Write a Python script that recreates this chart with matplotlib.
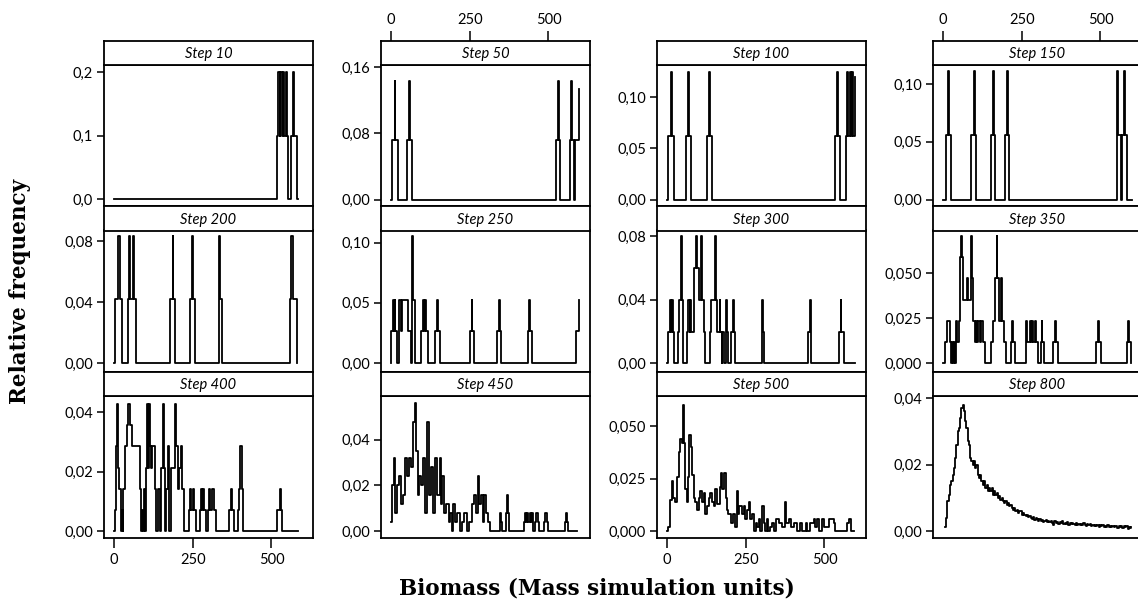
import numpy as np
import matplotlib.pyplot as plt

plt.rcParams['font.family'] = ['Lato', 'DejaVu Sans']

# ---------------------------------------------------------------- data
titles = ['Step 10', 'Step 50', 'Step 100', 'Step 150',
          'Step 200', 'Step 250', 'Step 300', 'Step 350',
          'Step 400', 'Step 450', 'Step 500', 'Step 800']

# step lines: x = where the level changes, y = level from there on
x10 = [0, 517, 522, 526, 528, 532, 537, 541, 545, 549, 553, 562, 567, 571, 580, 585]
y10 = [0, .1, .2, .1, .2, .1, .2, .1, .2, .1, 0, .1, .2, .1, 0, 0]

x50 = [0, 3, 11, 14, 21, 50, 56, 59, 66, 524, 531, 535, 538, 567, 571, 575, 580, 584, 591, 597, 597]
y50 = [0, .0714, .1429, .0714, 0, .0714, .1429, .0714, 0, .0714, .1429, .0714, 0,
       .0714, .1429, .0714, 0, .0714, .0714, .0714, .133]

x100 = [0, 4, 12, 15, 22, 59, 66, 69, 75, 126, 133, 136, 142, 535, 540, 543, 549,
        570, 573, 576, 582, 584, 589, 591, 596, 596]
y100 = [0, .0625, .125, .0625, 0, .0625, .125, .0625, 0, .0625, .125, .0625, 0,
        .0625, .125, .0625, 0, .0625, .125, .0625, .125, .0625, .125, .0625, .0625, .12]

x150 = [0, 9, 17, 20, 25, 90, 97, 100, 106, 151, 158, 161, 164, 197, 202, 205, 208,
        551, 554, 557, 564, 567, 575, 579, 585, 600]
y150 = [0, .0556, .1111, .0556, 0, .0556, .1111, .0556, 0, .0556, .1111, .0556, 0,
        .0556, .1111, .0556, 0, .0556, .1111, .0556, 0, .0556, .1111, .0556, 0, 0]

x200 = [0, 3, 12, 18, 24, 43, 49, 52, 61, 64, 71, 179, 186, 188, 195, 242, 248, 250, 258,
        333, 334, 337, 342, 559, 563, 568, 580, 582]
y200 = [0, .0417, .0833, .0417, 0, .0417, .0833, .0417, .0833, .0417, 0, .0417, .0833, .0417, 0,
        .0417, .0833, .0417, 0, .0417, .0833, .0417, 0, .0417, .0833, .0417, 0, 0]

x250 = [0, 1, 5, 8, 11, 14, 18, 24, 31, 35, 55, 62, 66, 68, 70, 77, 96, 101, 104, 107, 111, 116,
        141, 146, 149, 156, 252, 256, 258, 262, 337, 342, 345, 349, 434, 439, 442, 448, 589, 597, 597]
y250 = [0, .0263, .0526, .0263, .0526, .0263, 0, .0526, .0263, .0526, .0263, 0, .0526, .1053, .0526, 0,
        .0263, .0526, .0263, .0526, .0263, 0, .0263, .0526, .0263, 0, .0263, .0526, .0263, 0,
        .0263, .0526, .0263, 0, .0263, .0526, .0263, 0, .0263, .0263, .0526]

x300 = [0, 2, 9, 13, 15, 19, 22, 36, 38, 44, 46, 52, 63, 68, 72, 74, 76, 80, 84, 87, 93, 95, 100,
        108, 110, 118, 121, 136, 141, 152, 154, 160, 167, 169, 173, 176, 178, 182, 187, 189, 195,
        203, 210, 212, 217, 301, 303, 305, 309, 448, 454, 456, 458, 546, 552, 554, 562, 596]
y300 = [0, .02, .04, .02, .04, .02, 0, .02, .04, .08, .04, 0, .02, .04, .02, .04, .02, .02, .04, .06,
        .08, .06, .04, .08, .04, .02, 0, .02, .04, .08, .04, .02, .04, .02, 0, .02, .02, 0, .04, .02, 0,
        .02, .04, .02, 0, .02, .04, .02, 0, .02, .04, .02, 0, .02, .04, .02, 0, 0]

x350 = [0, 6, 11, 22, 25, 29, 32, 35, 38, 41, 45, 51, 53, 57, 60, 64, 75, 80, 88, 91, 96, 101, 106,
        109, 112, 118, 122, 127, 132, 153, 160, 165, 170, 172, 178, 184, 187, 195, 200, 216, 220,
        222, 229, 262, 265, 267, 277, 279, 284, 286, 292, 294, 300, 311, 313, 315, 320, 350, 356,
        358, 365, 486, 492, 494, 501, 583, 589, 591, 598]
y350 = [0, .0118, .0235, .0118, 0, .0118, 0, .0118, 0, .0235, .0118, .0235, .0588, .0706, .0588,
        .0353, .0471, .0353, .0706, .0471, .0235, .0118, .0235, .0118, .0235, .0118, .0235, .0118, 0,
        .0118, .0235, .0471, .0706, .0471, .0235, .0471, .0235, .0118, 0, .0118, .0235, .0118, 0,
        .0118, .0235, .0118, .0235, .0118, .0235, .0118, .0235, .0118, 0, .0118, .0235, .0118, 0,
        .0118, .0235, .0118, 0, .0118, .0235, .0118, 0, .0118, .0235, .0118, 0]

x400 = [0, 3, 6, 10, 12, 14, 17, 21, 24, 27, 29, 35, 40, 45, 52, 56, 82, 85, 88, 91, 94, 97, 101,
        106, 109, 111, 114, 118, 122, 129, 134, 140, 145, 150, 155, 158, 163, 166, 171, 176, 180,
        192, 195, 197, 202, 207, 213, 216, 223, 239, 241, 244, 252, 255, 260, 272, 276, 278, 284,
        287, 293, 297, 302, 305, 311, 316, 323, 365, 373, 375, 381, 394, 396, 401, 405, 409, 517,
        526, 529, 534, 583]
y400 = [0, .0071, .0286, .0429, .0286, .0214, .0143, 0, .0071, 0, .0143, .0286, .0357, .0429,
        .0357, .0286, .0143, 0, .0071, 0, .0143, 0, .0214, .0429, .0214, .0429, .0286, .0214,
        .0286, .0143, 0, .0143, 0, .0214, .0429, .0214, 0, .0143, .0286, 0, .0214, .0286, .0429,
        .0286, .0143, .0214, .0286, .0143, 0, .0071, .0143, .0071, .0143, .0071, 0, .0071, .0143,
        .0071, .0143, .0071, 0, .0071, .0143, .0071, .0143, .0071, 0, .0071, .0143, .0071, 0,
        .0071, .0143, .0286, .0143, 0, .0071, .0143, .0071, 0, 0]

x450 = [0, 2, 9, 14, 20, 26, 31, 37, 44, 52, 58, 63, 69, 75, 79, 84, 89, 95, 103, 108, 113, 121,
        127, 133, 140, 145, 154, 158, 162, 169, 175, 183, 188, 193, 198, 204, 209, 218, 225, 232,
        241, 249, 257, 264, 271, 275, 279, 286, 292, 296, 301, 307, 313, 345, 347, 350, 352, 366,
        368, 371, 374, 421, 425, 429, 432, 436, 440, 444, 448, 452, 458, 462, 466, 470, 485, 488,
        494, 497, 552, 555, 559, 562, 591]
y450 = [.004, .02, .032, .008, .02, .024, .012, .016, .032, .024, .032, .028, .048, .056, .035,
        .016, .024, .02, .032, .008, .048, .016, .028, .008, .032, .016, .032, .012, .024, .008,
        .012, .004, .008, 0, .012, .004, .008, 0, .004, .008, 0, .004, .012, .016, .008, .024,
        .012, .016, .004, .016, .008, .004, 0, .004, .008, .004, 0, .008, .016, .008, 0, .004,
        .008, .004, .008, .004, .008, .004, .008, 0, .004, .008, .004, 0, .004, .008, .004, 0,
        .004, .008, .004, 0, 0]

x500 = [0, 2, 10, 15, 20, 25, 33, 37, 41, 47, 50, 54, 58, 63, 66, 70, 75, 80, 84, 89, 94, 100,
        105, 110, 116, 122, 126, 132, 137, 142, 148, 153, 158, 167, 171, 176, 180, 186, 190, 195,
        203, 209, 217, 222, 226, 230, 238, 243, 248, 254, 260, 264, 270, 275, 281, 286, 291, 296,
        301, 307, 312, 317, 322, 328, 333, 339, 347, 355, 365, 374, 378, 386, 394, 402, 413, 421,
        429, 440, 445, 455, 466, 471, 476, 482, 493, 500, 514, 530, 535, 572, 577, 583, 593]
y500 = [0, .002, .015, .024, .016, .014, .026, .038, .044, .042, .06, .042, .02, .014, .026, .046,
        .04, .027, .016, .014, .01, .016, .019, .014, .018, .008, .012, .016, .018, .014, .012,
        .02, .013, .021, .028, .02, .028, .016, .01, .008, .004, .008, .002, .019, .008, .012,
        .008, .012, .006, .01, .014, .006, .008, 0, .004, .002, .006, 0, .012, .004, 0, .006, 0,
        .002, .004, 0, .006, .004, .002, .014, .004, .006, .002, .004, 0, .004, 0, .004, 0, .004,
        .006, .002, .006, 0, .006, .002, .006, .004, 0, .004, .006, 0, 0]

y800 = [0.0013, 0.004, 0.009, 0.011, 0.014, 0.015, 0.017, 0.019, 0.022, 0.026,
        0.030, 0.031, 0.034, 0.037, 0.038, 0.036, 0.033, 0.031, 0.027, 0.026,
        0.022, 0.021, 0.020, 0.021, 0.019, 0.020, 0.017, 0.016, 0.017, 0.015,
        0.014, 0.015, 0.013, 0.014, 0.012, 0.013, 0.012, 0.013, 0.011, 0.012,
        0.011, 0.0115, 0.010, 0.0105, 0.0095, 0.010, 0.009, 0.0085, 0.009, 0.008,
        0.0085, 0.0075, 0.008, 0.007, 0.0065, 0.007, 0.006, 0.0065, 0.0055, 0.006,
        0.0062, 0.005, 0.0055, 0.005, 0.0045, 0.005, 0.0042, 0.0045, 0.004, 0.0038,
        0.0042, 0.0035, 0.004, 0.0038, 0.0032, 0.0036, 0.003, 0.0034, 0.0028, 0.003,
        0.0034, 0.0029, 0.0032, 0.0028, 0.003, 0.0026, 0.0018, 0.003, 0.0026, 0.0028,
        0.0022, 0.0028, 0.0025, 0.003, 0.0022, 0.0026, 0.0023, 0.0027, 0.002, 0.0024,
        0.0022, 0.0025, 0.0021, 0.0019, 0.0024, 0.002, 0.0023, 0.0018, 0.0022, 0.0019,
        0.0025, 0.002, 0.0017, 0.0021, 0.0018, 0.0022, 0.0016, 0.002, 0.0015, 0.0019,
        0.0016, 0.002, 0.0014, 0.0018, 0.0015, 0.0019, 0.0013, 0.0017, 0.0014, 0.0018,
        0.0012, 0.0016, 0.0013, 0.0017, 0.0012, 0.0015, 0.0017, 0.0011, 0.0015, 0.0013,
        0.0016, 0.001, 0.0015, 0.0012, 0.0017, 0.0007, 0.0013, 0.0011, 0.0014]
x800 = np.arange(len(y800)) * 4 + 6   # bin positions

series = [(x10, y10), (x50, y50), (x100, y100), (x150, y150),
          (x200, y200), (x250, y250), (x300, y300), (x350, y350),
          (x400, y400), (x450, y450), (x500, y500), (x800, y800)]

yticks = [[0, .1, .2], [0, .08, .16], [0, .05, .10], [0, .05, .10],
          [0, .04, .08], [0, .05, .10], [0, .04, .08], [0, .025, .050],
          [0, .02, .04], [0, .02, .04], [0, .025, .050], [0, .02, .04]]
ydec = [1, 2, 2, 2, 2, 2, 2, 3, 2, 2, 3, 2]
ylims = [(-0.011, 0.211), (-0.0084, 0.1625), (-0.0068, 0.1315), (-0.006, 0.1164),
         (-0.0057, 0.0868), (-0.0073, 0.110), (-0.0055, 0.0836), (-0.0048, 0.0735),
         (-0.0021, 0.0455), (-0.0028, 0.0592), (-0.003, 0.0645), (-0.0019, 0.0406)]
xticks = [0, 250, 500]

# ---------------------------------------------------------------- layout
W, H = 1138, 602
fig = plt.figure(figsize=(W / 100, H / 100), dpi=100)

col_left = [104, 381, 657, 933]
row_top = [41, 206.5, 372]
strip_h = 24
plot_h = 141.5
pw = 209
xlim = (-32, 632)


def box(l, t, w, h):
    return [l / W, 1 - (t + h) / H, w / W, h / H]


for i, (x, y) in enumerate(series):
    r, c = i // 4, i % 4
    ax = fig.add_axes(box(col_left[c], row_top[r] + strip_h, pw, plot_h))
    ax.step(x, y, where='post', color='black', lw=1.3)
    ax.set_xlim(xlim)
    ax.set_ylim(ylims[i])
    ax.set_yticks(yticks[i])
    ax.set_yticklabels([('%.*f' % (ydec[i], v)).replace('.', ',') for v in yticks[i]])
    ax.tick_params(axis='y', direction='out', length=5, width=1.1, labelsize=10.5, pad=3)
    if r == 2 and c in (0, 2):
        ax.set_xticks(xticks)
        ax.tick_params(axis='x', direction='out', length=7, width=1.1, labelsize=10.5, pad=4)
    else:
        ax.set_xticks([])
    for s in ax.spines.values():
        s.set_linewidth(1.3)

    sax = fig.add_axes(box(col_left[c], row_top[r], pw, strip_h))
    sax.set_xlim(xlim)
    sax.set_yticks([])
    sax.text(0.5, 0.45, titles[i], transform=sax.transAxes, ha='center', va='center',
             fontsize=10.5, style='italic')
    if r == 0 and c in (1, 3):
        sax.xaxis.tick_top()
        sax.set_xticks(xticks)
        sax.tick_params(axis='x', direction='out', length=7, width=1.1, labelsize=10.5, pad=3)
    else:
        sax.set_xticks([])
    for s in sax.spines.values():
        s.set_linewidth(1.3)

fig.text(597 / W, 1 - 589 / H, 'Biomass (Mass simulation units)', ha='center', va='center',
         fontsize=15.5, fontweight='bold', family='DejaVu Serif')
fig.text(20 / W, 1 - 291 / H, 'Relative frequency', ha='center', va='center', rotation=90,
         fontsize=15.5, fontweight='bold', family='DejaVu Serif')

fig.savefig('out.png', dpi=100)
